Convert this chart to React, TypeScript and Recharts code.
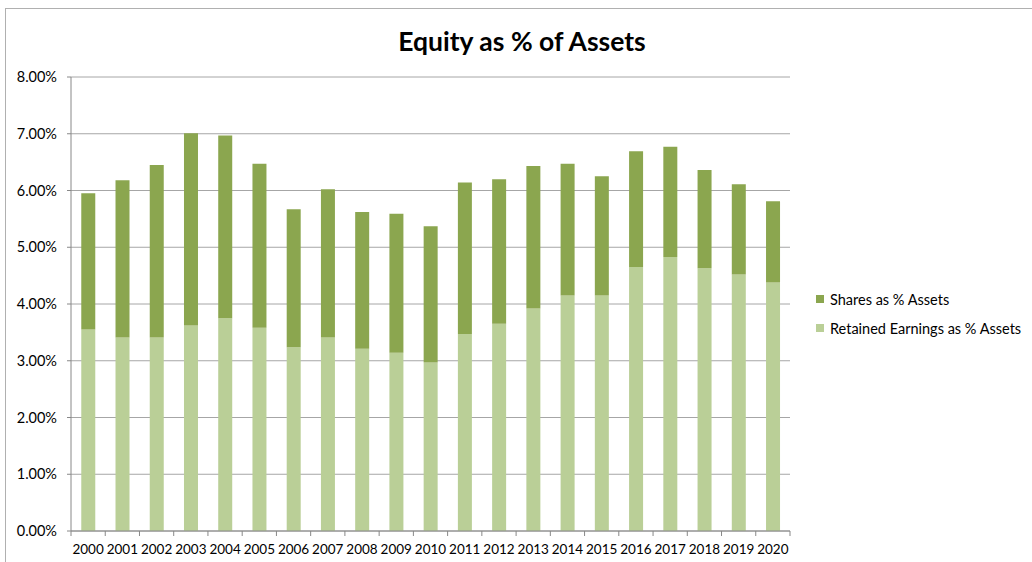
import { BarChart, Bar, XAxis, YAxis, CartesianGrid } from 'recharts';

const years = [
    '2000', '2001', '2002', '2003', '2004', '2005', '2006', '2007', '2008', '2009', '2010',
    '2011', '2012', '2013', '2014', '2015', '2016', '2017', '2018', '2019', '2020',
];
// retained earnings as % of assets
const retained = [
    3.55, 3.41, 3.41, 3.62, 3.75, 3.58, 3.24, 3.41, 3.21, 3.14, 2.97,
    3.47, 3.65, 3.92, 4.15, 4.15, 4.65, 4.83, 4.63, 4.52, 4.38,
];
// shares as % of assets (stacked on top)
const shares = [
    2.40, 2.77, 3.04, 3.39, 3.22, 2.89, 2.43, 2.61, 2.41, 2.45, 2.40,
    2.67, 2.55, 2.51, 2.32, 2.10, 2.04, 1.94, 1.73, 1.59, 1.43,
];
const yTicks = [0, 1, 2, 3, 4, 5, 6, 7, 8];
const seriesNames = ['Shares as % Assets', 'Retained Earnings as % Assets'];

const data = years.map((y, i) => ({ year: y, retained: retained[i], shares: shares[i] }));

const SHARES_COLOR = '#8BA64F';
const RETAINED_COLOR = '#BACF97';
const FONT = 'Lato, "Open Sans", sans-serif';

const YearTick = (props: any) => {
    const { x, y, payload, index, width } = props;
    const half = width / years.length / 2;
    return (
        <g>
            <line x1={x - half} y1={y} x2={x - half} y2={y + 5} stroke="#888" />
            {index === years.length - 1 && (
                <line x1={x + half} y1={y} x2={x + half} y2={y + 5} stroke="#888" />
            )}
            <text x={x} y={y + 23} textAnchor="middle" fontSize={13.5} fill="#000" fontFamily={FONT}>
                {payload.value}
            </text>
        </g>
    );
};

export default function App() {
    return (
        <div style={{ position: 'absolute', left: 0, top: 0, width: 1032, height: 562, background: '#fff', overflow: 'hidden', fontFamily: FONT }}>
            <div style={{ position: 'absolute', left: 5, top: 8, width: 1100, height: 600, border: '1px solid #b0b0b0' }} />
            <div style={{ position: 'absolute', left: 0, top: 25, width: 1044, textAlign: 'center', fontSize: 26.5, fontWeight: 700, color: '#000' }}>
                Equity as % of Assets
            </div>
            <div style={{ position: 'absolute', top: 0, left: 0 }}>
                <BarChart
                    width={1032}
                    height={562}
                    data={data}
                    margin={{ top: 77, right: 242, left: 0, bottom: 0 }}
                    barCategoryGap="30%"
                >
                    <CartesianGrid vertical={false} stroke="#a6a6a6" />
                    <XAxis
                        dataKey="year"
                        tickLine={false}
                        tickSize={0}
                        tickMargin={0}
                        axisLine={{ stroke: '#888' }}
                        tick={<YearTick />}
                        interval={0}
                        height={31}
                    />
                    <YAxis
                        width={71}
                        domain={[0, 8]}
                        ticks={yTicks}
                        tickFormatter={(v: number) => v.toFixed(2) + '%'}
                        axisLine={{ stroke: '#888' }}
                        tickLine={{ stroke: '#888' }}
                        tickSize={4}
                        tickMargin={10}
                        tick={{ fontSize: 14.5, fill: '#000', fontFamily: FONT }}
                    />
                    <Bar dataKey="retained" stackId="a" fill={RETAINED_COLOR} isAnimationActive={false} />
                    <Bar dataKey="shares" stackId="a" fill={SHARES_COLOR} isAnimationActive={false} />
                </BarChart>
            </div>
            <div style={{ position: 'absolute', left: 816, top: 289, fontSize: 14.5, color: '#000' }}>
                {seriesNames.map((name, i) => (
                    <div key={name} style={{ display: 'flex', alignItems: 'center', height: 20, marginBottom: i === 0 ? 9 : 0 }}>
                        <span style={{ width: 8, height: 8, background: i === 0 ? SHARES_COLOR : RETAINED_COLOR, marginRight: 6, display: 'inline-block' }} />
                        <span>{name}</span>
                    </div>
                ))}
            </div>
        </div>
    );
}
